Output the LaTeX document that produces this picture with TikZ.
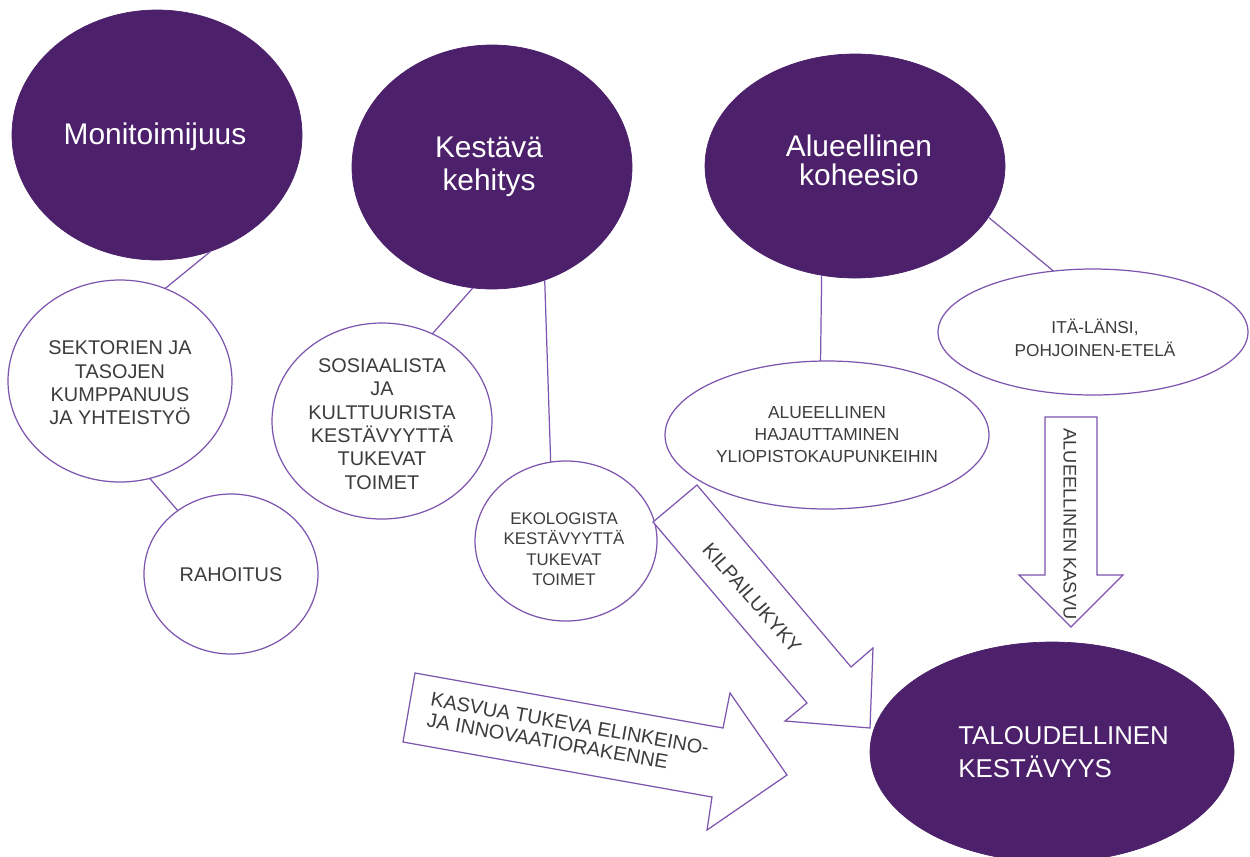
\documentclass[tikz,border=0pt]{standalone}
\usepackage{fontspec}
\setmainfont{Liberation Sans}
\usetikzlibrary{shapes.geometric}
\newlength\pxl \setlength\pxl{0.02cm}
\definecolor{deep}{RGB}{76,32,106}
\definecolor{edgec}{RGB}{125,85,175}
\definecolor{ink}{RGB}{60,60,60}
\begin{document}
\begin{tikzpicture}[x=0.02cm,y=-0.02cm,
  bigE/.style={ellipse, fill=deep, draw=deep, inner sep=0pt, outer sep=0pt},
  smallE/.style={ellipse, draw=edgec, line width=0.7pt, fill=white, inner sep=0pt, outer sep=0pt},
  bigT/.style={text=white, font=\fontsize{17}{17.5}\selectfont, align=center, inner sep=0pt},
  smallT/.style={text=ink, align=center, inner sep=0pt, font=\fontsize{11.3}{13.3}\selectfont},
  link/.style={draw=edgec, line width=0.7pt},
  fat/.style={draw=edgec, line width=0.7pt, fill=white, line join=miter}
]
\fill[white] (0,0) rectangle (1250,856);
\useasboundingbox (0,0) rectangle (1250,856);
\clip (0,0) rectangle (1250,856);

% main purple ellipses
\node[bigE, minimum width=290\pxl, minimum height=250\pxl] (mono) at (157,135) {};
\node[bigE, minimum width=280\pxl, minimum height=244\pxl] (kest) at (492,167) {};
\node[bigE, minimum width=300\pxl, minimum height=224\pxl] (alue) at (855,166) {};
\node[bigE, minimum width=364\pxl, minimum height=220\pxl] (talo) at (1052,752) {};

% outlined ellipses
\node[smallE, minimum width=224\pxl, minimum height=202\pxl] (sekt) at (120,381) {};
\node[smallE, minimum width=174\pxl, minimum height=160\pxl] (raho) at (231,574) {};
\node[smallE, minimum width=220\pxl, minimum height=196\pxl] (sosi) at (382,421) {};
\node[smallE, minimum width=182\pxl, minimum height=160\pxl] (eko) at (566,541) {};
\node[smallE, minimum width=324\pxl, minimum height=148\pxl] (haja) at (827,435) {};
\node[smallE, minimum width=310\pxl, minimum height=126\pxl] (ita) at (1093,332) {};

% connectors
\draw[link] (mono.-65) -- (sekt.64);
\draw[link] (sekt.-73) -- (raho.130);
\draw[link] (kest.-99) -- (sosi.60);
\draw[link] (kest.-65) -- (eko.101);
\draw[link] (alue.-107) -- (haja.95);
\draw[link] (alue.-21) -- (ita.123);

% texts
\node[bigT] (monoT) at (155,137) {Monitoimijuus};
\node[bigT, font=\fontsize{17}{18.6}\selectfont] (kestT) at (489,167) {Kestävä\\kehitys};
\node[bigT, font=\fontsize{17}{16.5}\selectfont] (alueT) at (859,160) {Alueellinen\\koheesio};
\node[bigT, anchor=west, align=left, font=\fontsize{14.7}{18.7}\selectfont] (taloT) at (958,752) {TALOUDELLINEN\\KESTÄVYYS};

\node[smallT] (sektT) at (120,383) {SEKTORIEN JA\\TASOJEN\\KUMPPANUUS\\JA YHTEISTYÖ};
\node[smallT] (rahoT) at (231,575) {RAHOITUS};
\node[smallT] (sosiT) at (382,424) {SOSIAALISTA\\JA\\KULTTUURISTA\\KESTÄVYYTTÄ\\TUKEVAT\\TOIMET};
\node[smallT, font=\fontsize{9.6}{11.6}\selectfont] (ekoT) at (564,549) {EKOLOGISTA\\KESTÄVYYTTÄ\\TUKEVAT\\TOIMET};
\node[smallT, font=\fontsize{9.9}{12.5}\selectfont] (hajaT) at (827,435) {ALUEELLINEN\\HAJAUTTAMINEN\\YLIOPISTOKAUPUNKEIHIN};
\node[smallT, font=\fontsize{9.8}{13}\selectfont] (itaT) at (1095,338) {ITÄ-LÄNSI,\\POHJOINEN-ETELÄ};

% block arrows
\draw[fat] (653,522) -- (697,485) -- (851,667) -- (873,648) -- (870,728) -- (785,721) -- (807,703) -- cycle;
\node[smallT, rotate=-49] (kilpT) at (752,598) {KILPAILUKYKY};

\draw[fat] (415,673) -- (723,728) -- (730,693) -- (787,775) -- (707,830) -- (712,797) -- (403,742) -- cycle;
\node[smallT, rotate=-10, align=left, font=\fontsize{11.3}{12}\selectfont] (kasvT) at (568,734) {KASVUA TUKEVA ELINKEINO-\\JA INNOVAATIORAKENNE};

\draw[fat] (1045,417) -- (1097,417) -- (1097,575) -- (1123,575) -- (1071,627) -- (1019,575) -- (1045,575) -- cycle;
\node[smallT, rotate=-90, font=\fontsize{10.4}{12}\selectfont] (alkT) at (1070,524) {ALUEELLINEN KASVU};
\end{tikzpicture}
\end{document}
